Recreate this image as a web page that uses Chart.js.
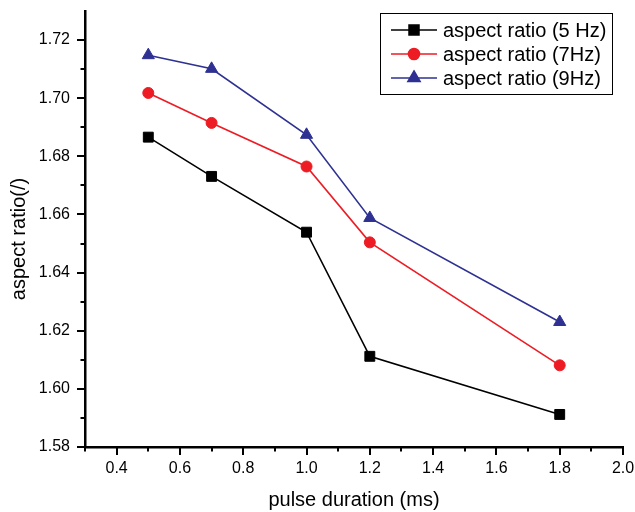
<!DOCTYPE html>
<html>
<head>
<meta charset="utf-8">
<script src="https://cdn.jsdelivr.net/npm/chart.js@4"></script>
<style>
html,body{margin:0;padding:0;background:#fff;}
#wrap{width:635px;height:512px;position:relative;}
</style>
</head>
<body>
<div id="wrap"><canvas id="c" width="635" height="512"></canvas></div>
<script>
const pulseDuration = [0.5, 0.7, 1.0, 1.2, 1.8];
const ratio5Hz = [1.6866, 1.6731, 1.6539, 1.6112, 1.5912];
const ratio7Hz = [1.7018, 1.6915, 1.6765, 1.6504, 1.6081];
const ratio9Hz = [1.7148, 1.7101, 1.6874, 1.6588, 1.6230];
const seriesLabels = ['aspect ratio (5 Hz)', 'aspect ratio (7Hz)', 'aspect ratio (9Hz)'];
const xTicks = [0.4, 0.6, 0.8, 1.0, 1.2, 1.4, 1.6, 1.8, 2.0];
const xMinorTicks = [0.3, 0.5, 0.7, 0.9, 1.1, 1.3, 1.5, 1.7, 1.9];
const yTicks = [1.58, 1.60, 1.62, 1.64, 1.66, 1.68, 1.70, 1.72];
const yMinorTicks = [1.59, 1.61, 1.63, 1.65, 1.67, 1.69, 1.71];
const xTitle = 'pulse duration (ms)';
const yTitle = 'aspect ratio(/)';

const FONT = "'Liberation Sans', Arial, sans-serif";
const colors = ['#000000', '#ED1C24', '#2E3192'];
const styles = ['rect', 'circle', 'triangle'];
const radii = [7, 5.5, 7];
const seriesValues = [ratio5Hz, ratio7Hz, ratio9Hz];

const datasets = seriesValues.map((vals, i) => ({
  label: seriesLabels[i],
  data: pulseDuration.map((x, j) => ({x: x, y: vals[j]})),
  borderColor: colors[i],
  backgroundColor: colors[i],
  borderWidth: 1.6,
  pointStyle: styles[i],
  pointRadius: radii[i],
  pointBorderWidth: 1,
  pointBackgroundColor: colors[i],
  pointBorderColor: colors[i],
  tension: 0,
  fill: false
}));

const tickMarks = {
  id: 'tickMarks',
  afterDraw(chart) {
    const ctx = chart.ctx, xs = chart.scales.x, ys = chart.scales.y, a = chart.chartArea;
    ctx.save();
    ctx.strokeStyle = '#000';
    ctx.lineWidth = 2;
    ctx.beginPath();
    xTicks.forEach(v => { const p = Math.round(xs.getPixelForValue(v)); ctx.moveTo(p, a.bottom); ctx.lineTo(p, a.bottom + 8); });
    xMinorTicks.forEach(v => { const p = Math.round(xs.getPixelForValue(v)); ctx.moveTo(p, a.bottom); ctx.lineTo(p, a.bottom + 4.5); });
    yTicks.forEach(v => { const p = Math.round(ys.getPixelForValue(v)); ctx.moveTo(a.left, p); ctx.lineTo(a.left - 8, p); });
    yMinorTicks.forEach(v => { const p = Math.round(ys.getPixelForValue(v)); ctx.moveTo(a.left, p); ctx.lineTo(a.left - 4.5, p); });
    ctx.stroke();
    // y axis title
    ctx.fillStyle = '#000';
    ctx.font = '20px ' + FONT;
    ctx.textAlign = 'center';
    ctx.textBaseline = 'middle';
    ctx.translate(19, (a.top + a.bottom) / 2 + 10);
    ctx.rotate(-Math.PI / 2);
    ctx.fillText(yTitle, 0, 0);
    ctx.restore();
  }
};

const boxLegend = {
  id: 'boxLegend',
  afterDraw(chart) {
    const ctx = chart.ctx, a = chart.chartArea;
    const right = a.right - 11, top = a.top + 2, w = 232, h = 81;
    const left = right - w;
    ctx.save();
    ctx.fillStyle = '#fff';
    ctx.fillRect(left, top, w, h);
    ctx.strokeStyle = '#000';
    ctx.lineWidth = 1;
    ctx.strokeRect(left + 0.5, top + 0.5, w, h);
    chart.data.datasets.forEach((ds, i) => {
      const y = top + 17 + i * 24;
      ctx.strokeStyle = ds.borderColor;
      ctx.lineWidth = 1.6;
      ctx.beginPath();
      ctx.moveTo(left + 11, y);
      ctx.lineTo(left + 57, y);
      ctx.stroke();
      ctx.fillStyle = ds.backgroundColor;
      Chart.helpers.drawPoint(ctx, {pointStyle: ds.pointStyle, radius: ds.pointRadius, borderWidth: 1, rotation: 0}, left + 34, y);
      ctx.fillStyle = '#000';
      ctx.font = '20px ' + FONT;
      ctx.textBaseline = 'middle';
      ctx.textAlign = 'left';
      ctx.fillText(ds.label, left + 63, y + 1);
    });
    ctx.restore();
  }
};

new Chart(document.getElementById('c'), {
  type: 'line',
  data: { datasets: datasets },
  plugins: [tickMarks, boxLegend],
  options: {
    responsive: false,
    animation: false,
    devicePixelRatio: 1,
    layout: { autoPadding: false, padding: { left: 0, right: 12, top: 11, bottom: 0 } },
    plugins: { legend: { display: false }, tooltip: { enabled: false } },
    scales: {
      x: {
        type: 'linear',
        min: 0.3, max: 2.0,
        afterBuildTicks: s => { s.ticks = xTicks.map(v => ({value: v})); },
        afterFit: s => { s.height = 65; },
        grid: { display: false, drawTicks: true, tickLength: 12 },
        border: { display: true, color: '#000', width: 2.5 },
        ticks: { padding: 0, color: '#000', font: { family: FONT, size: 16 }, maxRotation: 0, autoSkip: false, callback: v => Number(v).toFixed(1) },
        title: { display: true, text: xTitle, color: '#000', font: { family: FONT, size: 20 }, padding: { top: 0, bottom: 0 } }
      },
      y: {
        type: 'linear',
        min: 1.58, max: 1.73,
        afterBuildTicks: s => { s.ticks = yTicks.map(v => ({value: v})); },
        afterFit: s => { s.width = 85; },
        grid: { display: false, drawTicks: true, tickLength: 15 },
        border: { display: true, color: '#000', width: 2.5 },
        ticks: { padding: 0, color: '#000', font: { family: FONT, size: 16 }, autoSkip: false, callback: v => Number(v).toFixed(2) }
      }
    }
  }
});
</script>
</body>
</html>
